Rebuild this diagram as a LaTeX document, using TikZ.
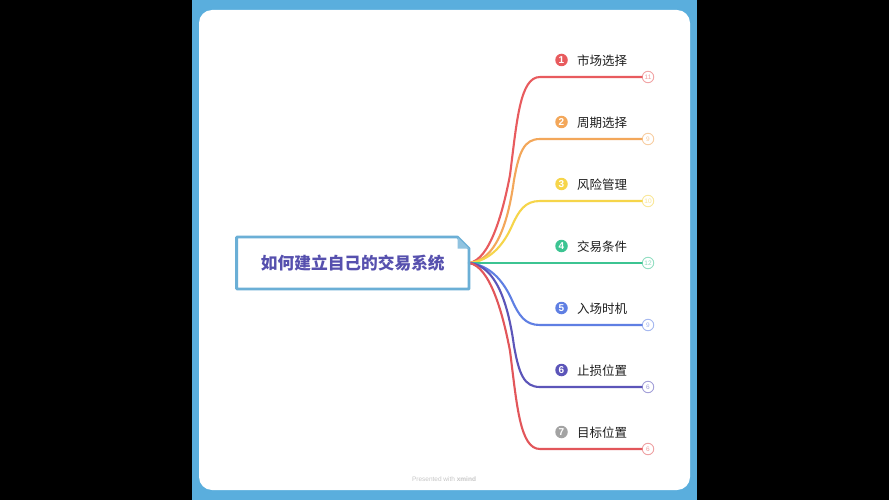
\documentclass[tikz,border=0pt]{standalone}
\usepackage{fontspec}
\setmainfont{Liberation Sans}
\newfontfamily\cjk{Noto Sans CJK SC}
\definecolor{frameblue}{HTML}{5AAEDD}
\definecolor{rootblue}{HTML}{6BAFD6}
\definecolor{titlecol}{HTML}{5650AE}
\definecolor{cA}{HTML}{E85B5E}
\definecolor{cB}{HTML}{F3A75A}
\definecolor{cC}{HTML}{F6D54A}
\definecolor{cD}{HTML}{3CC492}
\definecolor{cE}{HTML}{5F7FE3}
\definecolor{cF}{HTML}{5C55B9}
\definecolor{cG}{HTML}{A3A3A3}
\definecolor{cH}{HTML}{E2565A}
\tikzset{
  x=1pt,y=-1pt,
  branch/.style={line width=2.1pt,line cap=round},
  countc/.style={circle,draw=#1!55!white,line width=0.9pt,fill=white,minimum size=11.5pt,inner sep=0pt,text=#1!60!white,font=\fontsize{6.5}{7}\selectfont},
  bullet/.style={circle,fill=#1,minimum size=12.5pt,inner sep=0pt,text=white,font=\fontsize{10}{10}\selectfont\bfseries},
  label/.style={anchor=west,inner sep=0pt,text=black!88,font=\cjk\fontsize{12.5}{14}\selectfont},
  roottext/.style={inner sep=0pt,minimum width=232pt,minimum height=51.5pt,text=titlecol,font=\cjk\bfseries\fontsize{16.7}{19}\selectfont}
}
\begin{document}
\begin{tikzpicture}
\useasboundingbox (0,0) rectangle (889,500);
\fill[black] (0,0) rectangle (889,500);
\fill[frameblue] (192,0) rectangle (697,500);
\fill[white,rounded corners=13pt] (199,10) rectangle (690,490);
% root
\node[roottext] (root) at (352.8,263) {如何建立自己的交易系统};
% count circles
\node[countc=cA] (n1) at (648,77) {11};
\node[countc=cB] (n2) at (648,139) {9};
\node[countc=cC] (n3) at (648,201) {10};
\node[countc=cD] (n4) at (648,263) {12};
\node[countc=cE] (n5) at (648,325) {9};
\node[countc=cF] (n6) at (648,387) {6};
\node[countc=cH] (n7) at (648,449) {6};
% connectors
\draw[branch,cA] (root.east) .. controls (490,260) and (503,212) .. (510,175) .. controls (517,120) and (520,77) .. (540,77) -- (n1.west);
\draw[branch,cB] (root.east) .. controls (490,261) and (506,238) .. (514,180) .. controls (519,152) and (524,139) .. (540,139) -- (n2.west);
\draw[branch,cC] (root.east) .. controls (490,261) and (503,245) .. (511,228) .. controls (519,210) and (525,201) .. (540,201) -- (n3.west);
\draw[branch,cD] (root.east) -- (n4.west);
\draw[branch,cE] (root.east) .. controls (490,265) and (503,281) .. (511,298) .. controls (519,316) and (525,325) .. (540,325) -- (n5.west);
\draw[branch,cF] (root.east) .. controls (490,265) and (506,288) .. (514,346) .. controls (519,374) and (524,387) .. (540,387) -- (n6.west);
\draw[branch,cH] (root.east) .. controls (490,266) and (503,314) .. (510,351) .. controls (517,406) and (520,449) .. (540,449) -- (n7.west);
% root outline
\draw[rootblue,line width=2.8pt,line join=round]
  (root.north west) -- ([xshift=-11.5pt]root.north east) -- ([yshift=-11.5pt]root.north east) -- (root.south east) -- (root.south west) -- cycle;
\fill[rootblue!75] ([xshift=-11.5pt]root.north east) -- ([yshift=-11.5pt]root.north east) -- ([xshift=-11.5pt,yshift=-11.5pt]root.north east) -- cycle;
% bullets and labels
\node[bullet=cA] (b1) at (561.5,60) {1};
\node[bullet=cB] (b2) at (561.5,122) {2};
\node[bullet=cC] (b3) at (561.5,184) {3};
\node[bullet=cD] (b4) at (561.5,246) {4};
\node[bullet=cE] (b5) at (561.5,308) {5};
\node[bullet=cF] (b6) at (561.5,370) {6};
\node[bullet=cG] (b7) at (561.5,432) {7};
\node[label] (l1) at (577,60.5) {市场选择};
\node[label] (l2) at (577,122.5) {周期选择};
\node[label] (l3) at (577,184.5) {风险管理};
\node[label] (l4) at (577,246.5) {交易条件};
\node[label] (l5) at (577,308.5) {入场时机};
\node[label] (l6) at (577,370.5) {止损位置};
\node[label] (l7) at (577,432.5) {目标位置};
\node[text=black!22,font=\fontsize{6.5}{7}\selectfont,inner sep=0pt] (foot) at (444,479) {Presented with \textbf{xmind}};
\end{tikzpicture}
\end{document}
